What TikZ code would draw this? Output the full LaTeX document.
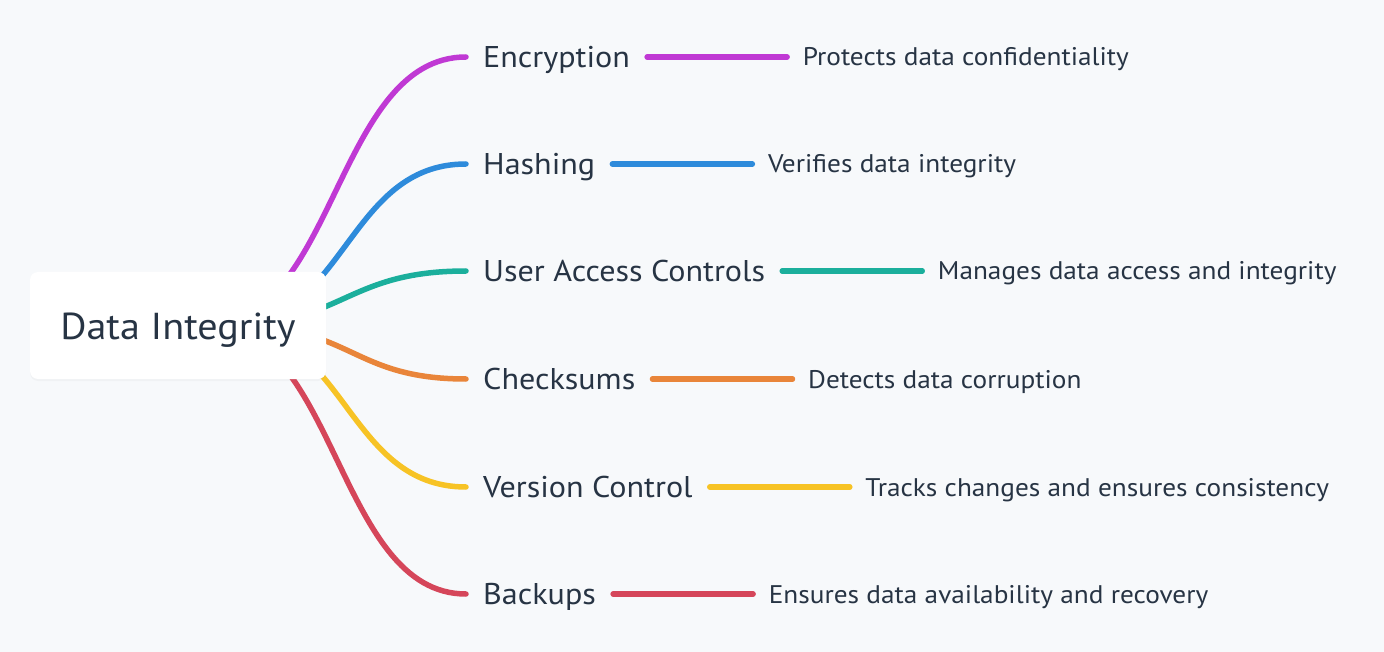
\documentclass[tikz,border=0pt]{standalone}
\usepackage{fontspec}
\setmainfont{PT Sans}[FakeStretch=1.07]
\usetikzlibrary{positioning,shadows}
\definecolor{ink}{HTML}{273444}
\definecolor{paper}{HTML}{F7F9FB}
\definecolor{cMag}{HTML}{C039D4}
\definecolor{cBlue}{HTML}{2E8BDB}
\definecolor{cTeal}{HTML}{1BAF9C}
\definecolor{cOrange}{HTML}{E9853A}
\definecolor{cYellow}{HTML}{F7C325}
\definecolor{cRed}{HTML}{D5465A}
\pgfdeclarelayer{back}
\pgfdeclarelayer{front}
\pgfsetlayers{back,main,front}
\begin{document}
\begin{tikzpicture}[x=1pt, y=-1pt,
		rootbox/.style={fill=white, rounded corners=8pt, minimum width=296pt, minimum height=107pt, inner sep=0pt, text height=27pt, text depth=0pt, text=ink, font=\fontsize{37.5}{44}\selectfont, drop shadow={opacity=0.05, shadow xshift=0pt, shadow yshift=-2pt}},
		branch/.style={anchor=west, inner xsep=17pt, inner ysep=0pt, text height=21pt, text depth=0pt, text=ink, font=\fontsize{30}{36}\selectfont},
		leaf/.style={inner xsep=15.5pt, inner ysep=0pt, text height=18pt, text depth=0pt, text=ink, font=\fontsize{25.5}{30}\selectfont},
		link/.style={line width=5.5pt, line cap=round}]
	\begin{pgfonlayer}{back}
		\fill[paper] (0,0) rectangle (1384,652);
	\end{pgfonlayer}
	\useasboundingbox (0,0) rectangle (1384,652);
	\begin{pgfonlayer}{front}
		\node[rootbox] (root) at (178,325.5) {Data Integrity};
	\end{pgfonlayer}
	\foreach \i/\y/\col/\a/\name/\desc in {1/57/cMag/205/Encryption/Protects data confidentiality, 2/164/cBlue/226/Hashing/Verifies data integrity, 3/271/cTeal/222/User Access Controls/Manages data access and integrity, 4/379/cOrange/238/Checksums/Detects data corruption, 5/487/cYellow/226/Version Control/Tracks changes and ensures consistency, 6/594/cRed/208/Backups/Ensures data availability and recovery}
		{
			\pgfmathsetmacro{\c}{(466-\a)/2}
			\coordinate (s\i) at (\a,326);
			\node[branch] (br\i) at (466,\y) {\name};
			\node[leaf, right=140pt of br\i] (lf\i) {\desc};
			\draw[link, \col] (s\i) .. controls +(\c,0) and +(-\c,0) .. (br\i.west);
			\draw[link, \col] (br\i) -- (lf\i);
		}
\end{tikzpicture}
\end{document}
